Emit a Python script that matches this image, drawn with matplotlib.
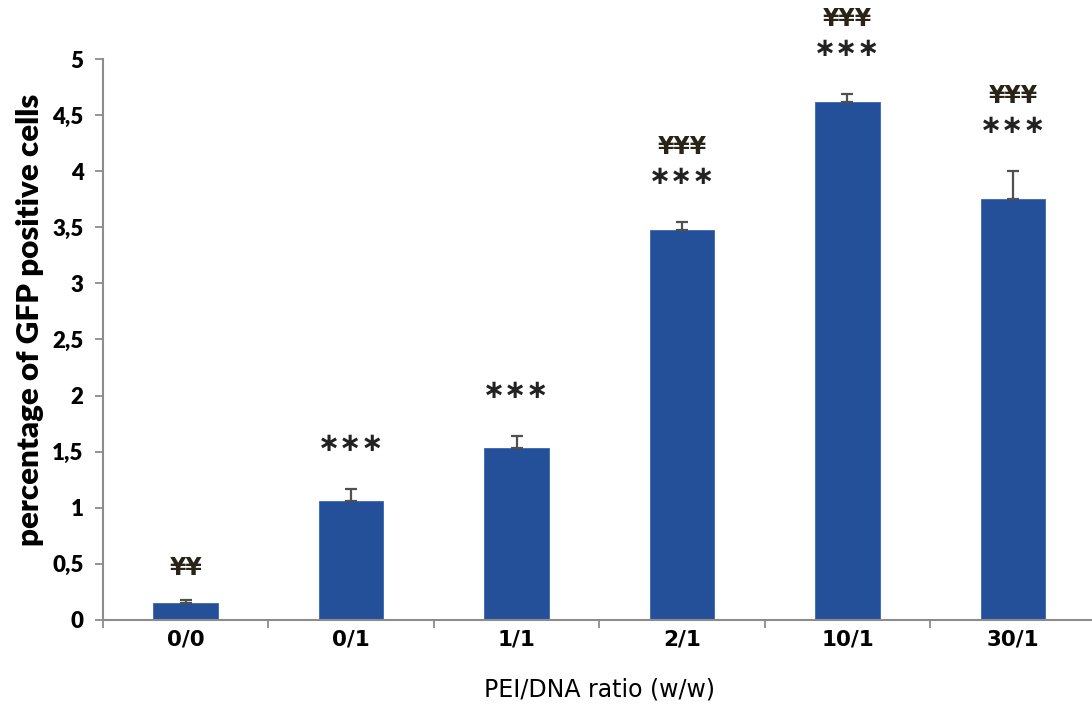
import numpy as np
import matplotlib.pyplot as plt

# data
ratios = ['0/0', '0/1', '1/1', '2/1', '10/1', '30/1']
gfp_pct = [0.15, 1.06, 1.53, 3.48, 4.62, 3.75]
gfp_err = [0.03, 0.11, 0.11, 0.07, 0.07, 0.25]
stars = ['', '***', '***', '***', '***', '***']
yens = ['¥¥', '', '', '¥¥¥', '¥¥¥', '¥¥¥']
y_ticks = [0, 0.5, 1, 1.5, 2, 2.5, 3, 3.5, 4, 4.5, 5]

bar_color = '#24509a'
axis_color = '#8c8c8c'

fig = plt.figure(figsize=(10.92, 7.05), dpi=100)
ax = fig.add_axes([0.0943, 0.1206, 0.909, 0.7957])

x = np.arange(len(ratios))
ax.bar(x, gfp_pct, width=0.39, color=bar_color, edgecolor='#3a66b0',
       linewidth=0.6, zorder=2)
ax.errorbar(x, gfp_pct, yerr=[np.zeros(len(x)), gfp_err], fmt='none',
            ecolor='#505050', elinewidth=1.6, capsize=4, capthick=1.6,
            zorder=3)

# significance marks above the error bars
for i in range(len(x)):
    top = gfp_pct[i] + gfp_err[i]
    if stars[i]:
        ax.text(x[i], top + 0.40, '\u2217\u2217\u2217', ha='center',
                va='center', fontsize=19, fontweight='bold', color='#222222',
                family='DejaVu Sans', clip_on=False)
        if yens[i]:
            ax.text(x[i], top + 0.67, yens[i], ha='center', va='center',
                    fontsize=17, fontweight='bold', color='#2a2418',
                    family='DejaVu Sans', clip_on=False)
    elif yens[i]:
        ax.text(x[i], top + 0.28, yens[i], ha='center', va='center',
                fontsize=17, fontweight='bold', color='#2a2418',
                family='DejaVu Sans', clip_on=False)

ax.set_xlim(-0.5, len(ratios) - 0.5)
ax.set_ylim(0, 5)
ax.set_yticks(y_ticks)
ax.set_yticklabels([('%g' % v).replace('.', ',') for v in y_ticks],
                   fontsize=16, fontweight='heavy', family='Lato')
ax.set_xticks(x)
ax.set_xticklabels(ratios, fontsize=15.5, fontweight='bold',
                   family='DejaVu Sans')
ax.set_xticks(np.arange(-0.5, len(ratios)), minor=True)
ax.tick_params(axis='x', which='major', length=0, pad=7)
ax.tick_params(axis='x', which='minor', length=6, width=1.3,
               color=axis_color)
ax.tick_params(axis='y', length=6, width=1.3, color=axis_color, pad=8)

for side in ['top', 'right']:
    ax.spines[side].set_visible(False)
for side in ['left', 'bottom']:
    ax.spines[side].set_color(axis_color)
    ax.spines[side].set_linewidth(1.5)

ax.set_ylabel('percentage of GFP positive cells', fontsize=22.5,
              fontweight='heavy', family='Lato', va='center')
ax.yaxis.set_label_coords(-0.074, 0.535)
ax.set_xlabel('PEI/DNA ratio (w/w)', fontsize=17, family='DejaVu Sans',
              labelpad=20)

fig.savefig('out.png', dpi=100)
